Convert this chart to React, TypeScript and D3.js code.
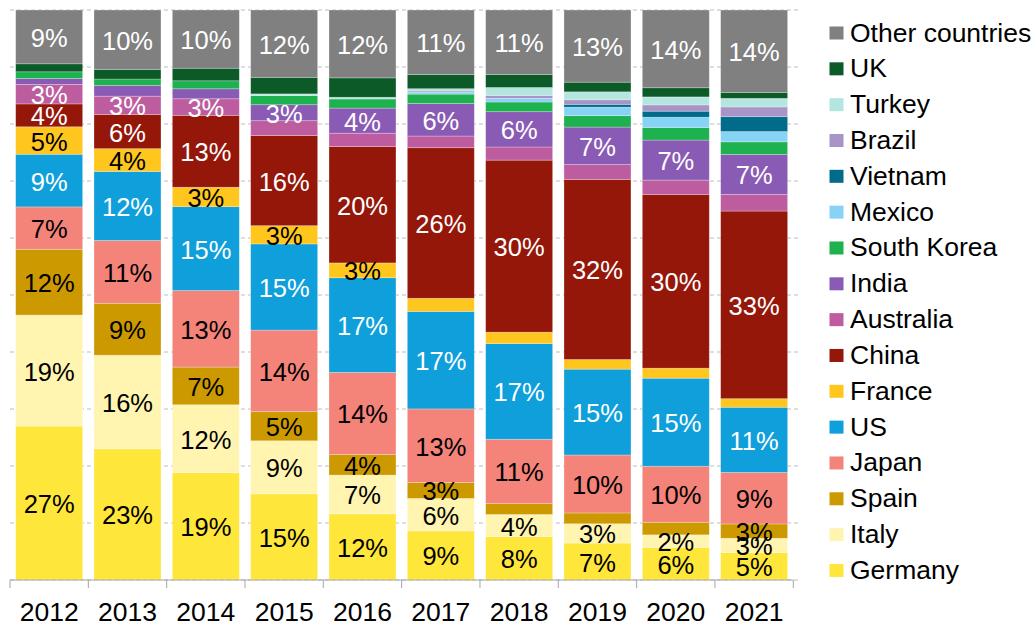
import React from "react";
import * as d3 from "d3";

const years = ["2012", "2013", "2014", "2015", "2016", "2017", "2018", "2019", "2020", "2021"];

// bottom to top stacking order
const seriesNames = [
  "Germany", "Italy", "Spain", "Japan", "US", "France", "China", "Australia",
  "India", "South Korea", "Mexico", "Vietnam", "Brazil", "Turkey", "UK", "Other countries",
];

const germany = [26.9, 23.0, 18.8, 15.1, 11.6, 8.6, 7.6, 6.5, 5.7, 4.8];
const italy = [19.4, 16.4, 11.9, 9.3, 6.8, 5.7, 3.9, 3.4, 2.2, 2.5];
const spain = [11.5, 9.1, 6.6, 5.1, 3.6, 2.8, 1.9, 1.9, 2.2, 2.5];
const japan = [7.4, 11.0, 13.4, 14.3, 14.4, 12.9, 11.3, 10.2, 9.8, 9.0];
const us = [9.2, 12.1, 14.7, 15.1, 16.6, 17.1, 16.8, 15.1, 15.4, 11.4];
const france = [4.8, 4.0, 3.4, 3.2, 2.6, 2.3, 2.0, 1.7, 1.75, 1.5];
const china = [4.0, 6.0, 12.6, 15.8, 20.4, 26.4, 30.2, 31.7, 30.4, 32.8];
const australia = [3.4, 3.2, 2.9, 2.6, 2.35, 2.05, 2.3, 2.6, 2.5, 2.9];
const india = [1.05, 1.9, 1.75, 2.8, 4.4, 5.7, 6.2, 6.6, 7.0, 7.0];
const southKorea = [1.16, 1.1, 1.4, 1.6, 1.6, 1.65, 1.7, 2.0, 2.2, 2.2];
const mexico = [0, 0, 0, 0, 0, 0.35, 0.65, 1.5, 1.8, 1.8];
const vietnam = [0, 0, 0, 0, 0, 0, 0, 0.5, 1.05, 2.6];
const brazil = [0, 0, 0, 0, 0, 0.2, 0.5, 0.8, 1.1, 1.7];
const turkey = [0, 0, 0, 0.3, 0.3, 0.4, 1.4, 1.4, 1.4, 1.5];
const uk = [1.4, 1.7, 2.2, 2.9, 3.4, 2.5, 2.3, 1.7, 1.6, 1.05];
const otherCountries = [9.4, 10.4, 10.2, 11.8, 11.9, 11.3, 11.3, 12.7, 13.6, 14.4];

const seriesValues = [
  germany, italy, spain, japan, us, france, china, australia,
  india, southKorea, mexico, vietnam, brazil, turkey, uk, otherCountries,
];

const colors = [
  "#ffe63b", "#fff4b0", "#cc9900", "#f4837a", "#0f9fda", "#ffc61e", "#94170a", "#bd5da0",
  "#8a5bb4", "#1db14f", "#87d3f5", "#006b8a", "#a994c8", "#b3e6df", "#0b5a27", "#808080",
];

const whiteLabelSeries = ["Other countries", "China", "US", "India", "Australia"];
const labelledSeries = ["Germany", "Italy", "Spain", "Japan", "US", "France", "China", "Australia", "India", "Other countries"];
const hiddenLabels = ["Australia 2015", "Australia 2019", "Australia 2020", "Australia 2021"];
const extraLabels = ["Italy 2020"];

const gridTicks = [0, 0.1, 0.2, 0.3, 0.4, 0.5, 0.6, 0.7, 0.8, 0.9, 1];

const W = 1035;
const H = 624;
const FONT = "'Liberation Sans', Arial, sans-serif";

export default function App() {
  const rows = years.map((y, i) => {
    const r: any = { year: y };
    seriesNames.forEach((s, j) => (r[s] = seriesValues[j][i]));
    return r;
  });
  const stack = d3.stack<any>().keys(seriesNames).offset(d3.stackOffsetExpand);
  const stacked = stack(rows);

  const x = d3.scaleBand<string>().domain(years).range([10, 793.3]).paddingInner(0.145).paddingOuter(0.0725);
  const y = d3.scaleLinear().domain([0, 1]).range([580, 10]);
  const step = x.step();

  const legendItems = [...seriesNames].reverse();

  return (
    <svg width={W} height={H} style={{ position: "absolute", left: 0, top: 0, background: "#fff" }} fontFamily={FONT}>
      {gridTicks.map((t) => (
        <line key={t} x1={10} x2={800} y1={y(t)} y2={y(t)} stroke="#bdbdbd" strokeWidth={1} strokeDasharray="4 3" />
      ))}
      {stacked.map((layer, j) => (
        <g key={layer.key}>
          {layer.map((d, i) => {
            const h = y(d[0]) - y(d[1]);
            if (h <= 0) return null;
            return (
              <rect key={i} x={x(years[i])} y={y(d[1])} width={x.bandwidth()} height={h}
                fill={colors[j]} stroke="#ffffff" strokeOpacity={0.35} strokeWidth={0.75} />
            );
          })}
        </g>
      ))}
      {stacked.map((layer, j) => (
        <g key={"l" + layer.key}>
          {layer.map((d, i) => {
            const name = layer.key;
            const v = seriesValues[j][i];
            const tag = name + " " + years[i];
            const show = (labelledSeries.includes(name) && v >= 2.5 && !hiddenLabels.includes(tag)) || extraLabels.includes(tag);
            if (!show) return null;
            const cy = (y(d[0]) + y(d[1])) / 2;
            return (
              <text key={i} x={(x(years[i]) as number) + x.bandwidth() / 2} y={cy + 10} textAnchor="middle"
                fontSize={25.5} fill={whiteLabelSeries.includes(name) ? "#ffffff" : "#000000"}>
                {Math.round(v) + "%"}
              </text>
            );
          })}
        </g>
      ))}
      <line x1={10} x2={793.3} y1={580} y2={580} stroke="#a6a6a6" strokeWidth={1} />
      {d3.range(years.length + 1).map((k) => (
        <line key={k} x1={10 + k * step} x2={10 + k * step} y1={580} y2={588} stroke="#a6a6a6" strokeWidth={1} />
      ))}
      {years.map((yr) => (
        <text key={yr} x={(x(yr) as number) + x.bandwidth() / 2} y={621} textAnchor="middle" fontSize={26.5} fill="#000">
          {yr}
        </text>
      ))}
      {legendItems.map((name, k) => {
        const cy = 33 + k * 35.83;
        const j = seriesNames.indexOf(name);
        return (
          <g key={name}>
            <rect x={829.5} y={cy - 6.5} width={14} height={13} fill={colors[j]} />
            <text x={850} y={cy + 8.5} fontSize={26.5} fill="#000">{name}</text>
          </g>
        );
      })}
    </svg>
  );
}
